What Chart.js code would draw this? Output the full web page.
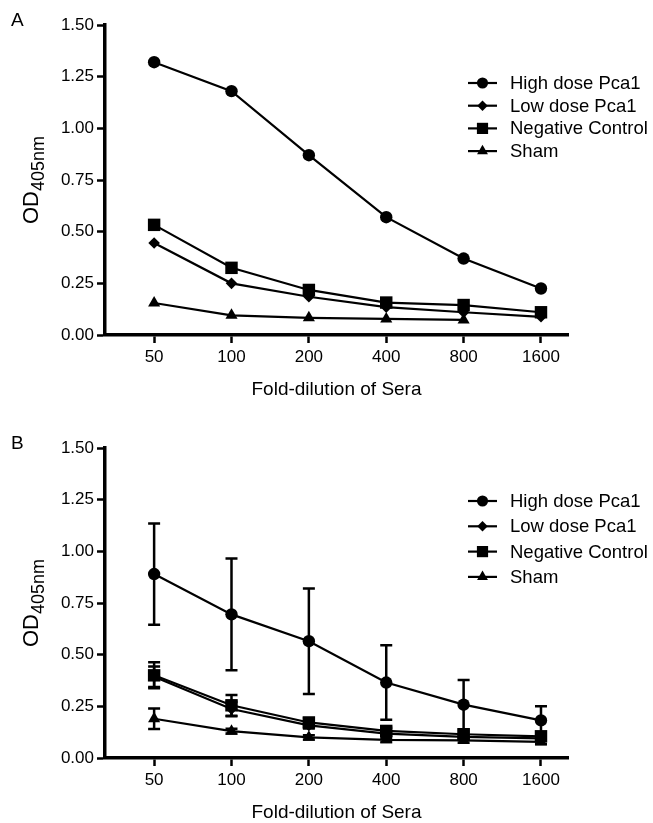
<!DOCTYPE html>
<html>
<head>
<meta charset="utf-8">
<script src="https://cdn.jsdelivr.net/npm/chart.js@4.4.1/dist/chart.umd.min.js"></script>
<style>
  html, body { margin: 0; padding: 0; background: #fff; overflow: hidden; }
  canvas { position: absolute; left: 0; }
  #chartA { top: 0; }
  #chartB { top: 423px; }
</style>
</head>
<body>
<canvas id="chartA" width="653" height="423"></canvas>
<canvas id="chartB" width="653" height="423"></canvas>
<script>
// x categories (fold dilution) and y ticks
const dilutions = [50, 100, 200, 400, 800, 1600];
const yTicks = [0, 0.25, 0.5, 0.75, 1.0, 1.25, 1.5];
const seriesNames = ['High dose Pca1', 'Low dose Pca1', 'Negative Control', 'Sham'];

// panel A
const highA = [1.32, 1.18, 0.87, 0.57, 0.37, 0.225];
const lowA  = [0.445, 0.25, 0.185, 0.135, 0.11, 0.088];
const negA  = [0.533, 0.325, 0.218, 0.157, 0.145, 0.11];
const shamA = [0.155, 0.095, 0.083, 0.078, 0.073, null];

// panel B (mean and SD)
const highB   = [0.89, 0.695, 0.565, 0.365, 0.258, 0.182];
const highSdB = [0.245, 0.27, 0.255, 0.18, 0.12, 0.068];
const lowB    = [0.393, 0.237, 0.158, 0.118, 0.102, 0.095];
const lowSdB  = [0.05, 0.035, 0.015, 0.012, 0.01, 0.01];
const negB    = [0.4, 0.255, 0.172, 0.131, 0.115, 0.105];
const negSdB  = [0.063, 0.05, 0.02, 0.015, 0.012, 0.012];
const shamB   = [0.19, 0.13, 0.1, 0.088, 0.085, 0.078];
const shamSdB = [0.05, 0.012, 0.01, 0.01, 0.01, 0.01];

const pointStyles = ['circle', 'rectRot', 'rect', 'triangle'];
const pointSizes = [6.2, 5.8, 8.8, 7];
const FONT = '"Liberation Sans", Arial, sans-serif';

function drawMarker(ctx, style, r, x, y) {
  ctx.beginPath();
  if (style === 'circle') {
    ctx.arc(x, y, r, 0, Math.PI * 2);
  } else if (style === 'rect') {
    const s = Math.SQRT1_2 * r;
    ctx.rect(x - s, y - s, 2 * s, 2 * s);
  } else if (style === 'rectRot') {
    ctx.moveTo(x, y - r); ctx.lineTo(x + r, y); ctx.lineTo(x, y + r); ctx.lineTo(x - r, y);
    ctx.closePath();
  } else {
    let a = 0;
    ctx.moveTo(x + Math.sin(a) * r, y - Math.cos(a) * r);
    a += Math.PI * 2 / 3;
    ctx.lineTo(x + Math.sin(a) * r, y - Math.cos(a) * r);
    a += Math.PI * 2 / 3;
    ctx.lineTo(x + Math.sin(a) * r, y - Math.cos(a) * r);
    ctx.closePath();
  }
  ctx.fill();
}

// error bars from the sd arrays
const errorBars = {
  id: 'errorBars',
  beforeDatasetsDraw(chart, args, opts) {
    if (!opts.sd) return;
    const ctx = chart.ctx, x = chart.scales.x, y = chart.scales.y;
    ctx.save();
    ctx.strokeStyle = '#000';
    ctx.lineWidth = 2.5;
    opts.sd.forEach((sd, di) => {
      const vals = chart.data.datasets[di].data;
      sd.forEach((e, i) => {
        const v = vals[i];
        if (v == null || !e) return;
        const px = x.getPixelForValue(dilutions[i]);
        const top = y.getPixelForValue(v + e);
        const bot = y.getPixelForValue(Math.max(v - e, 0));
        ctx.beginPath();
        ctx.moveTo(px, top); ctx.lineTo(px, bot);
        ctx.moveTo(px - 6, top); ctx.lineTo(px + 6, top);
        ctx.moveTo(px - 6, bot); ctx.lineTo(px + 6, bot);
        ctx.stroke();
      });
    });
    ctx.restore();
  }
};

// legend, y title with subscript, panel letter
const panelText = {
  id: 'panelText',
  afterDraw(chart, args, opts) {
    const ctx = chart.ctx, area = chart.chartArea;
    ctx.save();
    ctx.fillStyle = '#000';
    ctx.strokeStyle = '#000';

    ctx.font = '19px ' + FONT;
    ctx.textBaseline = 'alphabetic';
    ctx.fillText(opts.letter, 11, 26);

    // legend
    ctx.font = '18.5px ' + FONT;
    ctx.textBaseline = 'middle';
    chart.data.datasets.forEach((ds, i) => {
      const ly = opts.legendTop + i * opts.legendGap;
      ctx.lineWidth = 2.2;
      ctx.beginPath();
      ctx.moveTo(468, ly); ctx.lineTo(497, ly);
      ctx.stroke();
      drawMarker(ctx, ds.pointStyle, ds.pointRadius * 0.9, 482.5, ly);
      ctx.fillText(ds.label, 510, ly + 1);
    });

    // y axis title OD405nm
    const cy = (area.top + area.bottom) / 2;
    ctx.translate(38, cy);
    ctx.rotate(-Math.PI / 2);
    ctx.textBaseline = 'alphabetic';
    ctx.font = '22px ' + FONT;
    const w1 = ctx.measureText('OD').width;
    ctx.font = '18px ' + FONT;
    const w2 = ctx.measureText('405nm').width;
    const x0 = -(w1 + w2) / 2;
    ctx.font = '22px ' + FONT;
    ctx.fillText('OD', x0, 0);
    ctx.font = '18px ' + FONT;
    ctx.fillText('405nm', x0 + w1, 6);
    ctx.restore();
  }
};

function makeChart(id, series, sds, letter, legendTop, legendGap) {
  const datasets = series.map((vals, i) => ({
    label: seriesNames[i],
    data: vals,
    borderColor: '#000',
    backgroundColor: '#000',
    borderWidth: 2.2,
    pointStyle: pointStyles[i],
    pointRadius: pointSizes[i],
    pointBorderWidth: 0,
    pointBackgroundColor: '#000',
    tension: 0
  }));
  return new Chart(document.getElementById(id), {
    type: 'line',
    data: { labels: dilutions, datasets: datasets },
    plugins: [errorBars, panelText],
    options: {
      responsive: false,
      animation: false,
      events: [],
      layout: { padding: { left: 0, top: 25, right: 85, bottom: 0 } },
      plugins: {
        legend: { display: false },
        tooltip: { enabled: false },
        errorBars: { sd: sds },
        panelText: { letter: letter, legendTop: legendTop, legendGap: legendGap }
      },
      scales: {
        x: {
          type: 'logarithmic',
          min: 32.2,
          max: 2038,
          afterBuildTicks: (scale) => { scale.ticks = dilutions.map(v => ({ value: v })); },
          afterFit: (scale) => { scale.height = 88; },
          ticks: {
            callback: (v) => String(v),
            color: '#000',
            font: { family: FONT, size: 17 },
            padding: 4,
            maxRotation: 0,
            autoSkip: false
          },
          grid: { drawOnChartArea: false, tickLength: 8, tickWidth: 2.5, tickColor: '#000' },
          border: { color: '#000', width: 3.5 },
          title: {
            display: true,
            text: 'Fold-dilution of Sera',
            color: '#000',
            font: { family: FONT, size: 19 },
            padding: { top: 0, bottom: 22 }
          }
        },
        y: {
          min: 0,
          max: 1.5,
          afterBuildTicks: (scale) => { scale.ticks = yTicks.map(v => ({ value: v })); },
          afterFit: (scale) => { scale.width = 105; },
          ticks: {
            callback: (v) => v.toFixed(2),
            color: '#000',
            font: { family: FONT, size: 17 },
            padding: 3
          },
          grid: { drawOnChartArea: false, tickLength: 8, tickWidth: 2.5, tickColor: '#000' },
          border: { color: '#000', width: 3.5 }
        }
      }
    }
  });
}

makeChart('chartA', [highA, lowA, negA, shamA], null, 'A', 83, 22.7);
makeChart('chartB', [highB, lowB, negB, shamB], [highSdB, lowSdB, negSdB, shamSdB], 'B', 78, 25.3);
</script>
</body>
</html>
